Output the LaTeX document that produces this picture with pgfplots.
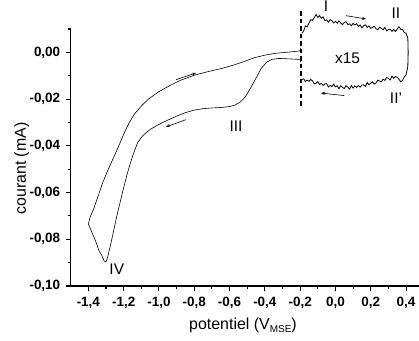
\documentclass[border=0pt]{standalone}
\usepackage{fontspec}
\setmainfont{Liberation Sans}
\usepackage{pgfplots}
\pgfplotsset{compat=1.18}
\usetikzlibrary{arrows.meta}
\begin{document}
\begin{tikzpicture}
\path[use as bounding box] (-70.7bp,-55bp) rectangle (348.3bp,286bp);
\begin{axis}[
  at={(0,0)}, anchor=south west,
  scale only axis, width=353bp, height=257bp,
  xmin=-1.5, xmax=0.5, ymin=-0.10, ymax=0.01,
  clip=false,
  axis x line=bottom, axis y line=left,
  axis line style={-, line width=1.3pt},
  tick align=outside,
  major tick length=5bp, minor tick length=3bp,
  every tick/.style={black, line width=1.1pt},
  xtick={-1.4,-1.2,-1.0,-0.8,-0.6,-0.4,-0.2,0.0,0.2,0.4},
  xticklabels={{-1,4},{-1,2},{-1,0},{-0,8},{-0,6},{-0,4},{-0,2},{0,0},{0,2},{0,4}},
  minor x tick num=1,
  ytick={-0.10,-0.08,-0.06,-0.04,-0.02,0.00},
  yticklabels={{-0,10},{-0,08},{-0,06},{-0,04},{-0,02},{0,00}},
  minor ytick={-0.09,-0.07,-0.05,-0.03,-0.01,0.01},
  tick label style={font=\bfseries\fontsize{13.5}{15}\selectfont},
  xticklabel style={yshift=-2.5bp},
  yticklabel style={xshift=-2bp},
]
% main CV (x1): cathodic branch then anodic branch
\addplot[black, line width=0.6pt] coordinates {
(-0.197,-0.0042) (-0.197,-0.0020) (-0.197,-0.0030)
(-0.21,-0.0030) (-0.26,-0.0028) (-0.32,-0.0026) (-0.36,-0.0030)
(-0.39,-0.0042) (-0.42,-0.0068) (-0.45,-0.0110) (-0.48,-0.0152)
(-0.51,-0.0190) (-0.54,-0.0213) (-0.57,-0.0226) (-0.60,-0.0232)
(-0.65,-0.0236) (-0.70,-0.0238) (-0.75,-0.0241) (-0.80,-0.0247)
(-0.85,-0.0258) (-0.90,-0.0273) (-0.95,-0.0290) (-1.00,-0.0308)
(-1.05,-0.0330) (-1.09,-0.0355) (-1.12,-0.0385) (-1.15,-0.0445)
(-1.18,-0.0520) (-1.21,-0.0610) (-1.24,-0.0705) (-1.27,-0.0810)
(-1.29,-0.0875) (-1.30,-0.0897) (-1.31,-0.0893) (-1.325,-0.0868)
(-1.34,-0.0848) (-1.36,-0.0805) (-1.38,-0.0770) (-1.40,-0.0735)
(-1.39,-0.0705) (-1.37,-0.0670) (-1.34,-0.0605) (-1.32,-0.0560)
(-1.29,-0.0505) (-1.26,-0.0455) (-1.23,-0.0405) (-1.20,-0.0350)
(-1.17,-0.0303) (-1.14,-0.0265) (-1.10,-0.0230) (-1.06,-0.0200)
(-1.00,-0.0168) (-0.94,-0.0143) (-0.88,-0.0120) (-0.80,-0.0098)
(-0.72,-0.0082) (-0.64,-0.0068) (-0.58,-0.0055) (-0.52,-0.0040)
(-0.46,-0.0023) (-0.40,-0.0012) (-0.34,-0.0004) (-0.28,0.0000)
(-0.24,0.0003) (-0.205,0.0006) (-0.197,0.0008) (-0.197,0.0020) (-0.197,-0.0002)
};
% magnified (x15) region
\addplot[black, line width=0.8pt] coordinates {
(-0.19,0.0082) (-0.18,0.0092) (-0.17,0.0113) (-0.16,0.0109) (-0.15,0.0126)
(-0.14,0.0140) (-0.13,0.0137) (-0.12,0.0149) (-0.11,0.0162) (-0.10,0.0150)
(-0.09,0.0157) (-0.08,0.0146) (-0.07,0.0152) (-0.06,0.0136) (-0.05,0.0139)
(-0.04,0.0129) (-0.03,0.0140) (-0.02,0.0135) (-0.01,0.0126) (0.00,0.0133)
(0.01,0.0125) (0.02,0.0135) (0.03,0.0125) (0.04,0.0119) (0.05,0.0128)
(0.06,0.0131) (0.07,0.0119) (0.08,0.0122) (0.09,0.0114) (0.10,0.0124)
(0.11,0.0117) (0.12,0.0123) (0.13,0.0111) (0.14,0.0117) (0.15,0.0105)
(0.16,0.0114) (0.17,0.0118) (0.18,0.0107) (0.19,0.0113) (0.20,0.0103)
(0.21,0.0107) (0.22,0.0112) (0.23,0.0101) (0.24,0.0097) (0.25,0.0108)
(0.26,0.0103) (0.27,0.0097) (0.28,0.0107) (0.29,0.0092) (0.30,0.0098)
(0.31,0.0099) (0.32,0.0090) (0.33,0.0098) (0.34,0.0089) (0.35,0.0100)
(0.36,0.0110) (0.37,0.0098) (0.38,0.0098) (0.39,0.0085) (0.40,0.0082)
(0.41,0.0062) (0.412,0.0000) (0.41,-0.0060) (0.40,-0.0096) (0.39,-0.0105)
(0.38,-0.0120) (0.37,-0.0126) (0.36,-0.0115) (0.35,-0.0107) (0.34,-0.0103)
(0.33,-0.0111) (0.32,-0.0102) (0.31,-0.0118) (0.30,-0.0111) (0.29,-0.0108)
(0.28,-0.0120) (0.27,-0.0115) (0.26,-0.0126) (0.25,-0.0123) (0.24,-0.0119)
(0.23,-0.0131) (0.22,-0.0136) (0.21,-0.0126) (0.20,-0.0132) (0.19,-0.0139)
(0.18,-0.0129) (0.17,-0.0145) (0.16,-0.0139) (0.15,-0.0140) (0.14,-0.0149)
(0.13,-0.0142) (0.12,-0.0150) (0.11,-0.0143) (0.10,-0.0153) (0.09,-0.0142)
(0.08,-0.0157) (0.07,-0.0149) (0.06,-0.0143) (0.05,-0.0155) (0.04,-0.0150)
(0.03,-0.0143) (0.02,-0.0156) (0.01,-0.0143) (0.00,-0.0148) (-0.01,-0.0136)
(-0.02,-0.0147) (-0.03,-0.0141) (-0.04,-0.0148) (-0.05,-0.0133) (-0.06,-0.0135)
(-0.07,-0.0142) (-0.08,-0.0132) (-0.09,-0.0138) (-0.10,-0.0125) (-0.11,-0.0132)
(-0.12,-0.0135) (-0.13,-0.0122) (-0.14,-0.0116) (-0.15,-0.0124) (-0.16,-0.0119)
(-0.17,-0.0125) (-0.18,-0.0113) (-0.19,-0.0116)
};
% dashed separator
\addplot[black, line width=1.2pt, dash pattern=on 4.5bp off 3bp] coordinates {(-0.195,0.0175) (-0.195,-0.0235)};
% arrows
\draw[-{Stealth[length=4bp,width=3bp]}, line width=0.6pt] (axis cs:-0.903,-0.0117) -- (axis cs:-0.790,-0.0088);
\draw[-{Stealth[length=4bp,width=3bp]}, line width=0.6pt] (axis cs:-0.846,-0.0288) -- (axis cs:-0.960,-0.0319);
\draw[-{Stealth[length=4bp,width=3bp]}, line width=0.6pt] (axis cs:0.060,0.0157) -- (axis cs:0.173,0.0143);
\draw[-{Stealth[length=4bp,width=3bp]}, line width=0.6pt] (axis cs:0.050,-0.0185) -- (axis cs:-0.082,-0.0174);
% labels
\begin{scope}[every node/.style={font=\fontsize{15.5}{17}\selectfont, inner sep=0pt}]
\node at (axis cs:-0.054,0.0197) {I};
\node at (axis cs:0.343,0.0169) {II};
\node at (axis cs:0.069,-0.0024) {x15};
\node at (axis cs:0.343,-0.0195) {II'};
\node at (axis cs:-0.563,-0.0314) {III};
\node at (axis cs:-1.239,-0.0928) {IV};
\end{scope}
% axis titles
\node[font=\fontsize{16}{18}\selectfont, inner sep=0pt, anchor=base] at (rel axis cs:0.488,-0.168) {potentiel (V\raisebox{-0.45ex}{\fontsize{10}{10}\selectfont MSE})};
\node[font=\fontsize{16}{18}\selectfont, inner sep=0pt, rotate=90, anchor=base] at (rel axis cs:-0.127,0.457) {courant (mA)};
\end{axis}
\end{tikzpicture}
\end{document}
